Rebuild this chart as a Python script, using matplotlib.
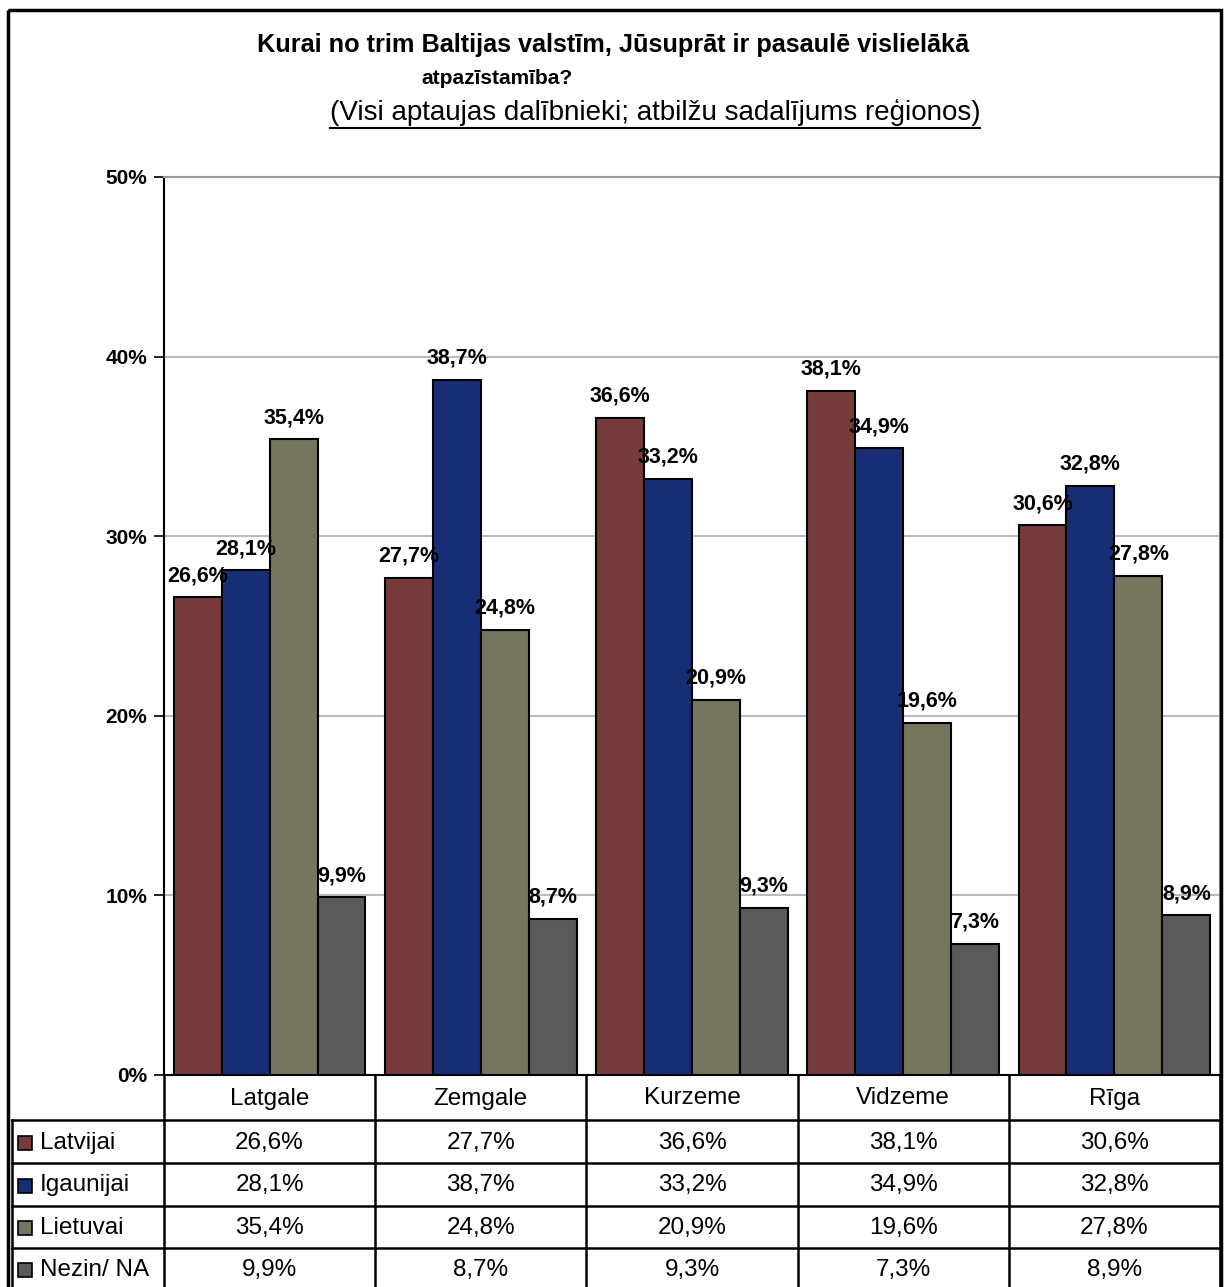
import matplotlib
matplotlib.use("Agg")
import matplotlib.pyplot as plt
from matplotlib.patches import Rectangle
from matplotlib.lines import Line2D
import numpy as np

plt.rcParams['font.family'] = ['Liberation Sans', 'DejaVu Sans']

categories = ["Latgale", "Zemgale", "Kurzeme", "Vidzeme", "Rīga"]
series_names = ["Latvijai", "Igaunijai", "Lietuvai", "Nezin/ NA"]
latvijai = [26.6, 27.7, 36.6, 38.1, 30.6]
igaunijai = [28.1, 38.7, 33.2, 34.9, 32.8]
lietuvai = [35.4, 24.8, 20.9, 19.6, 27.8]
nezin = [9.9, 8.7, 9.3, 7.3, 8.9]
series = [latvijai, igaunijai, lietuvai, nezin]
colors = ["#763C3C", "#172E74", "#76765E", "#5A5A5A"]
yticks = [0, 10, 20, 30, 40, 50]

W, H = 1226, 1287
fig = plt.figure(figsize=(W / 100, H / 100), dpi=100)

def fmt(v):
    return f"{v:.1f}".replace(".", ",") + "%"

# main plot area
L, R, T, B = 164, 1220, 177, 1075
ax = fig.add_axes([L / W, (H - B) / H, (R - L) / W, (B - T) / H])
ax.set_xlim(-0.5, len(categories) - 0.5)
ax.set_ylim(0, 50)
ax.set_yticks(yticks)
ax.set_yticklabels([f"{t}%" for t in yticks], fontsize=15, fontweight='bold')
ax.set_xticks([])
ax.yaxis.grid(True, color="#BBBBBB", linewidth=1.5)
ax.set_axisbelow(True)
ax.tick_params(axis='y', direction='out', length=7, width=1.2, pad=5)
for s in ['top', 'right']:
    ax.spines[s].set_color("#999999")
    ax.spines[s].set_linewidth(1.5)
ax.spines['left'].set_linewidth(1.5)
ax.spines['bottom'].set_linewidth(1.5)

bw = 0.227
x = np.arange(len(categories))
for i, (vals, c) in enumerate(zip(series, colors)):
    pos = x + (i - 1.5) * bw
    ax.bar(pos, vals, width=bw, color=c, edgecolor='black', linewidth=1.5, zorder=3)
    for p, v in zip(pos, vals):
        ax.annotate(fmt(v), (p, v), xytext=(0, 8), textcoords='offset points',
                    ha='center', va='bottom', fontsize=15.5, fontweight='bold', zorder=4)

# overlay in pixel coordinates
ov = fig.add_axes([0, 0, 1, 1], facecolor='none')
ov.set_xlim(0, W)
ov.set_ylim(H, 0)
ov.axis('off')

# figure border
ov.add_patch(Rectangle((8, 10), 1213, 1290, fill=False, edgecolor='black', linewidth=2.5))

# titles
ov.text(613, 45, "Kurai no trim Baltijas valstīm, Jūsuprāt ir pasaulē vislielākā",
        ha='center', va='center', fontsize=18.2, fontweight='bold')
ov.text(497, 79, "atpazīstamība?", ha='center', va='center', fontsize=15, fontweight='bold')
t3 = ov.text(655, 113, "(Visi aptaujas dalībnieki; atbilžu sadalījums reģionos)",
             ha='center', va='center', fontsize=20)

# table
bounds = [L + (R - L) * k / len(categories) for k in range(len(categories) + 1)]
row_y = [1075, 1120, 1163, 1206, 1248, 1290]
lw = 1.8
for bx in bounds:
    ov.add_line(Line2D([bx, bx], [1075, 1290], color='black', linewidth=lw))
ov.add_line(Line2D([12, 12], [1120, 1290], color='black', linewidth=lw))
for ry in row_y[1:-1]:
    ov.add_line(Line2D([12, R], [ry, ry], color='black', linewidth=lw))
for k, cat in enumerate(categories):
    ov.text((bounds[k] + bounds[k + 1]) / 2, (row_y[0] + row_y[1]) / 2 + 1, cat,
            ha='center', va='center', fontsize=17.5)
for r, (name, vals, c) in enumerate(zip(series_names, series, colors)):
    yc = (row_y[r + 1] + row_y[r + 2]) / 2 + 1
    ov.add_patch(Rectangle((18, yc - 7), 14, 14, facecolor=c, edgecolor='black', linewidth=1.2))
    ov.text(40, yc, name, ha='left', va='center', fontsize=17.5)
    for k, v in enumerate(vals):
        ov.text((bounds[k] + bounds[k + 1]) / 2, yc, fmt(v), ha='center', va='center', fontsize=17.5)

# underline subtitle
fig.canvas.draw()
bb = t3.get_window_extent(fig.canvas.get_renderer())
ov.add_line(Line2D([bb.x0, bb.x1], [H - bb.y0 + 1, H - bb.y0 + 1], color='black', linewidth=1.5))

fig.savefig("out.png", dpi=100)
